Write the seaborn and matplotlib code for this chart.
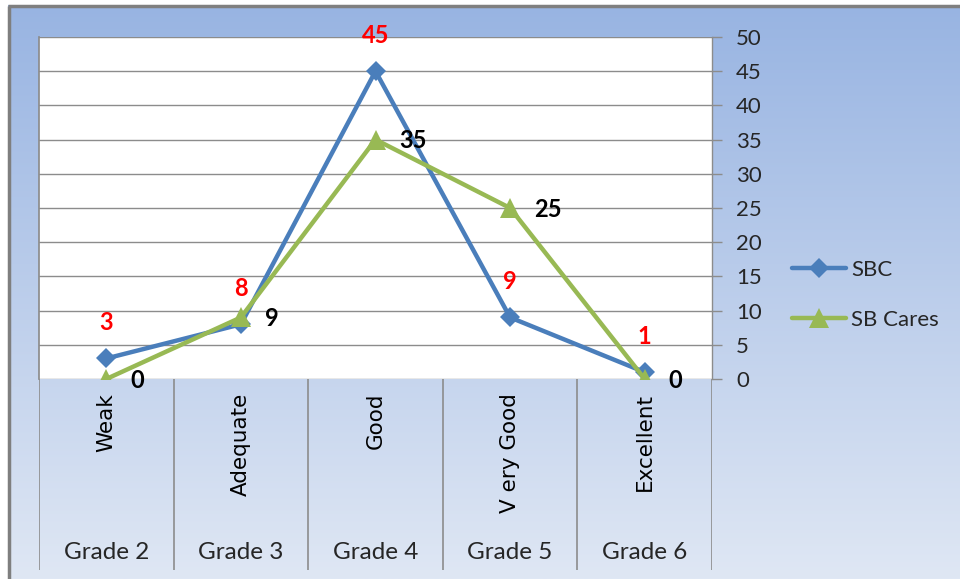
import numpy as np
import pandas as pd
import matplotlib
matplotlib.use("Agg")
import matplotlib.pyplot as plt
import seaborn as sns
from matplotlib.colors import LinearSegmentedColormap

# ---- data ----
grades = ["Grade 2", "Grade 3", "Grade 4", "Grade 5", "Grade 6"]
ratings = ["Weak", "Adequate", "Good", "V ery Good", "Excellent"]
sbc = [3, 8, 45, 9, 1]
sb_cares = [0, 9, 35, 25, 0]
y_ticks = list(range(0, 51, 5))

sns.set_theme(style="white")
plt.rcParams["font.family"] = ["Lato", "DejaVu Sans"]

W, H = 960, 579
fig = plt.figure(figsize=(W / 100, H / 100), dpi=100)
fig.patch.set_facecolor("white")

# background gradient panel
bg = fig.add_axes([0, 0, 1, 1], zorder=-10)
bg.set_xlim(0, W)
bg.set_ylim(H, 0)
bg.axis("off")
cmap = LinearSegmentedColormap.from_list("bgc", ["#98B4E2", "#DFE7F4"])
grad = np.linspace(0, 1, 256).reshape(-1, 1)
bg.imshow(grad, cmap=cmap, extent=[8, W, H, 5], aspect="auto", zorder=0)
bg.plot([9, 9], [H, 6], color="#7F7F7F", lw=2.5, zorder=2, solid_capstyle="butt")
bg.plot([8, W], [6, 6], color="#7F7F7F", lw=2.5, zorder=2, solid_capstyle="butt")

# main plot area
x0, x1, ytop, ybot = 39, 712, 37, 379
ax = fig.add_axes([x0 / W, 1 - ybot / H, (x1 - x0) / W, (ybot - ytop) / H])
ax.set_facecolor("white")
pos = np.arange(len(grades))
df = pd.DataFrame({"pos": pos, "SBC": sbc, "SB Cares": sb_cares})

sns.lineplot(data=df, x="pos", y="SBC", ax=ax, color="#4A7EBB", lw=3.2,
             marker="D", markersize=10, markeredgewidth=0, label="SBC",
             sort=False, zorder=3)
sns.lineplot(data=df, x="pos", y="SB Cares", ax=ax, color="#98B954", lw=3.2,
             marker="^", markersize=14, markeredgewidth=0, label="SB Cares",
             sort=False, zorder=4)

ax.set_xlim(-0.5, len(grades) - 0.5)
ax.set_ylim(0, 50)
ax.set_xticks([])
ax.set_xlabel("")
ax.set_ylabel("")
ax.yaxis.tick_right()
ax.set_yticks(y_ticks)
ax.tick_params(axis="y", right=True, length=7.2, width=1, color="#8C8C8C",
               direction="out", pad=10, labelsize=16, labelcolor="#262626")
for lab in ax.get_yticklabels():
    lab.set_horizontalalignment("left")
ax.grid(axis="y", color="#8C8C8C", lw=1)
ax.grid(axis="x", visible=False)
for s in ["top", "bottom"]:
    ax.spines[s].set_visible(False)
ax.spines["right"].set_color("#8C8C8C")
ax.spines["right"].set_linewidth(1)
ax.spines["left"].set_color("#8C8C8C")

# data labels
for p, v in zip(pos, sbc):
    ax.annotate(str(v), (p, v), xytext=(0, 26), textcoords="offset points",
                ha="center", va="center", color="#FF0000", fontsize=17,
                fontweight="bold", zorder=6)
for p, v in zip(pos, sb_cares):
    ax.annotate(str(v), (p, v), xytext=(17, -1), textcoords="offset points",
                ha="left", va="center", color="black", fontsize=17,
                fontweight="bold", zorder=6)

# legend
leg = ax.legend(loc="center left", bbox_to_anchor=(792 / W, 1 - 295 / H),
                bbox_transform=fig.transFigure, frameon=False, fontsize=16,
                handlelength=2.45, handletextpad=0.2, labelspacing=1.35,
                borderpad=0, borderaxespad=0)
for t in leg.get_texts():
    t.set_color("#262626")

# category axis area
ycat = 570
ax2 = fig.add_axes([x0 / W, 1 - ycat / H, (x1 - x0) / W, (ycat - ybot) / H])
ax2.set_xlim(-0.5, len(grades) - 0.5)
ax2.set_ylim(ycat, ybot)
ax2.axis("off")
for b in np.arange(len(grades) + 1) - 0.5:
    ax2.axvline(b, color="#8C8C8C", lw=1.2)
for p, r, g in zip(pos, ratings, grades):
    ax2.text(p, 393, r, rotation=90, ha="center", va="top", fontsize=15.5,
             family="DejaVu Sans", color="black")
    ax2.text(p, 553, g, ha="center", va="center", fontsize=17.5,
             color="#262626")

fig.savefig("out.png", dpi=100)
